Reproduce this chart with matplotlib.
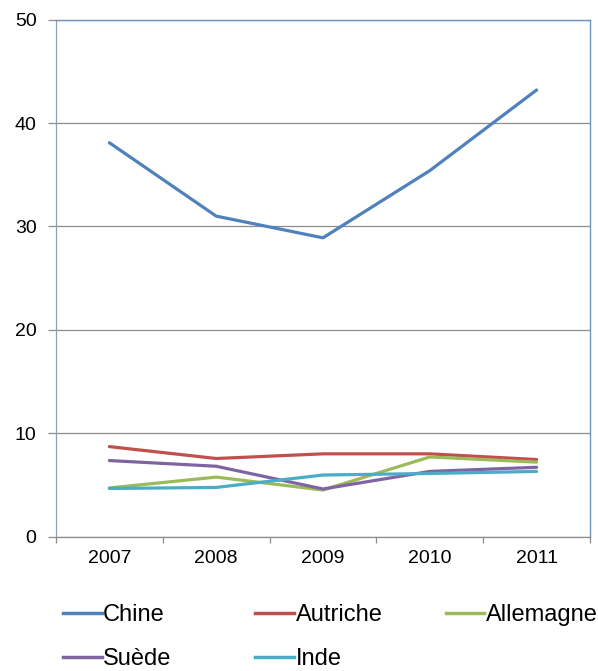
import matplotlib.pyplot as plt
import numpy as np
from matplotlib.lines import Line2D

plt.rcParams['font.family'] = ['Liberation Sans', 'DejaVu Sans']

years = ['2007', '2008', '2009', '2010', '2011']
chine = [38.1, 31.0, 28.9, 35.4, 43.2]
autriche = [8.7, 7.55, 8.0, 8.0, 7.45]
allemagne = [4.7, 5.75, 4.5, 7.7, 7.2]
suede = [7.35, 6.8, 4.6, 6.3, 6.7]
inde = [4.65, 4.75, 5.95, 6.1, 6.3]

names = ['Chine', 'Autriche', 'Allemagne', 'Suède', 'Inde']
colors = ['#4F81BD', '#C0504D', '#9BBB59', '#8064A2', '#4BACC6']
series = [chine, autriche, allemagne, suede, inde]

fig = plt.figure(figsize=(5.98, 6.71), dpi=100)
ax = fig.add_axes([0.0936, 0.2004, 0.893, 0.7702])

x = np.arange(len(years))
for vals, col in zip(series, colors):
    ax.plot(x, vals, color=col, lw=2.3, solid_capstyle='round', zorder=3)

ax.set_xlim(-0.5, len(years) - 0.5)
ax.set_ylim(0, 50)
ax.set_yticks(range(0, 51, 10))
ax.yaxis.grid(True, color='#8C8C8C', lw=0.9)
ax.set_axisbelow(True)

ax.set_xticks(x)
ax.set_xticklabels(years)
ax.set_xticks(np.arange(-0.5, len(years), 1.0), minor=True)
ax.tick_params(axis='x', which='major', length=0, pad=10, labelsize=14)
ax.tick_params(axis='x', which='minor', length=4, color='#8C8C8C', width=0.9)
ax.tick_params(axis='y', length=6, color='#8C8C8C', width=0.9, labelsize=14, pad=8)

for side in ['top', 'right']:
    ax.spines[side].set_color('#6F93C6')
    ax.spines[side].set_linewidth(1.0)
ax.spines['left'].set_color('#8EA0B8')
ax.spines['bottom'].set_color('#8C8C8C')
ax.spines['left'].set_linewidth(0.9)
ax.spines['bottom'].set_linewidth(0.9)

# legend laid out in fixed-width columns like Excel
col_x = [0.105, 0.427, 0.745]
groups = [[0, 3], [1, 4], [2]]
for cx, grp in zip(col_x, groups):
    handles = [Line2D([], [], color=colors[i], lw=2.5) for i in grp]
    labels = [names[i] for i in grp]
    fig.legend(handles, labels, loc='upper left', bbox_to_anchor=(cx, 0.1), frameon=False,
               handlelength=1.65, handletextpad=0.05, labelspacing=0.93, borderpad=0,
               borderaxespad=0, fontsize=17)

fig.savefig('out.png', dpi=100)
